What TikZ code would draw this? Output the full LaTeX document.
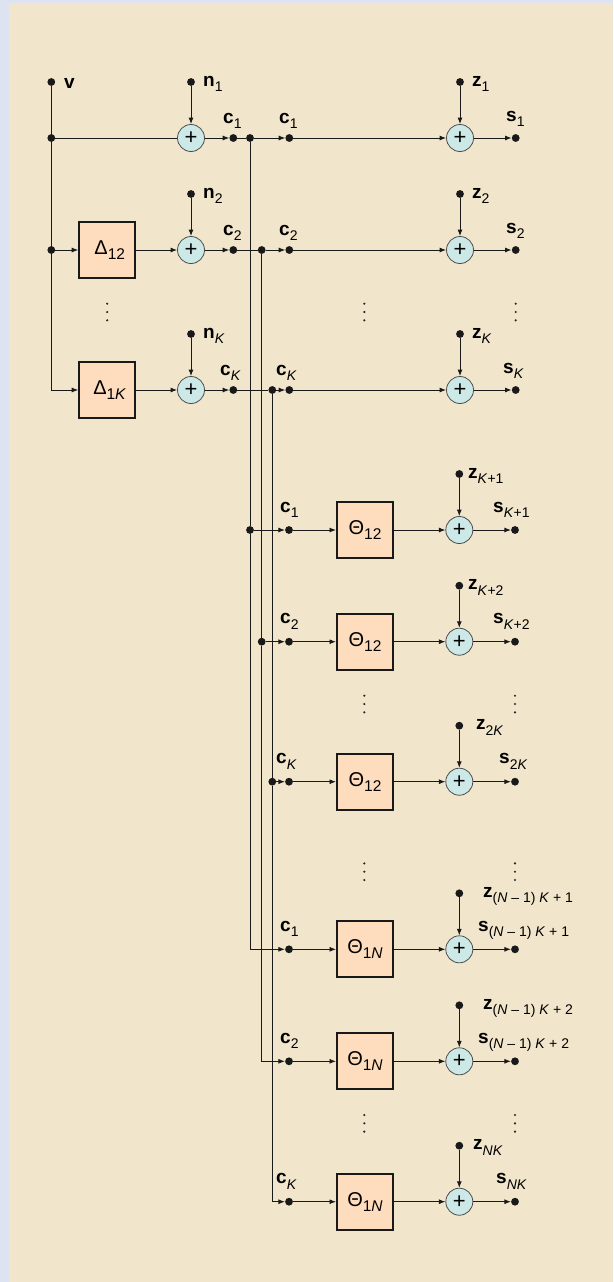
\documentclass[tikz,border=0pt]{standalone}
\usepackage{fontspec}
\setmainfont{Liberation Sans}
\usepackage{xcolor}
\usetikzlibrary{arrows.meta,calc,positioning}
\definecolor{framebg}{RGB}{222,227,241}
\definecolor{panelbg}{RGB}{241,229,203}
\definecolor{blockfill}{RGB}{254,221,190}
\definecolor{sumfill}{RGB}{205,233,231}
\newcommand{\vsub}[2]{\textbf{#1}\raisebox{-5.5pt}{\fontsize{14}{16}\selectfont #2}}
\newcommand{\bsub}[2]{#1\raisebox{-5pt}{\fontsize{15.5}{17}\selectfont #2}}

\begin{document}
\begin{tikzpicture}[x=1pt,y=-1pt,>={Latex[length=6.5pt,width=5pt]},
  wire/.style={line width=0.9pt,draw=black!90},
  sig/.style={wire,->},
  term/.style={circle,fill=black!90,inner sep=0pt,minimum size=7.8pt},
  adder/.style={circle,draw=black!70,line width=0.8pt,fill=sumfill,inner sep=0pt,
                minimum size=27pt,font=\fontsize{22}{22}\selectfont},
  blk/.style={draw=black!90,line width=2pt,fill=blockfill,inner sep=0pt,
              minimum size=56pt,font=\fontsize{20}{22}\selectfont},
  lab/.style={inner sep=0pt,anchor=base west,font=\fontsize{19}{22}\selectfont}]
\useasboundingbox (0,0) rectangle (613,1282);
\fill[framebg] (0,0) rectangle (613,1282);
\fill[panelbg] (9,3) rectangle (613,1282);

% source v and the delays
\node[term] (v) at (51.3,82) {};
\node[lab] at (64,88) {\textbf{v}};
\node[term] (v1) at (51.3,138) {};
\node[term] (v2) at (51.3,250) {};
\coordinate (vK) at (51.3,390);
\node[blk] (d2) at (107.2,250) {\hspace*{5pt}\bsub{Δ}{12}};
\node[blk] (d3) at (107.2,390) {\hspace*{5pt}\bsub{Δ}{1\textit{K}}};
\draw[wire] (v) -- (vK);
\draw[sig] (v1) -- (191,138);
\draw[sig] (v2) -- (d2);
\draw[sig] (vK) -- (d3);

% first K outputs
\foreach \r/\y/\sb/\ca/\cb/\sx in {1/138/1/223/279/506, 2/250/2/223/279/506,
                                   3/390/{\textit{K}}/220/276/503}{
  \node[adder] (a\r) at (191,\y) {+};
  \node[term] (n\r) at (191,\y-56) {};
  \node[lab] at (203,\y-52) {\vsub{n}{\sb}};
  \node[term] (ca\r) at (233.3,\y) {};
  \node[lab] at (\ca,\y-15) {\vsub{c}{\sb}};
  \node[term] (cb\r) at (289.3,\y) {};
  \node[lab] at (\cb,\y-15) {\vsub{c}{\sb}};
  \node[adder] (b\r) at (460,\y) {+};
  \node[term] (z\r) at (460,\y-56) {};
  \node[lab] at (472,\y-52) {\vsub{z}{\sb}};
  \node[term] (s\r) at (515.7,\y) {};
  \node[lab] at (\sx,\y-17) {\vsub{s}{\sb}};
  \draw[sig] (n\r) -- (a\r);
  \draw[sig] (a\r) -- (ca\r);
  \draw[sig] (cb\r) -- (b\r);
  \draw[sig] (z\r) -- (b\r);
  \draw[sig] (b\r) -- (s\r);
}
\draw[sig] (d2) -- (a2);
\draw[sig] (d3) -- (a3);

% taps of c_1 ... c_K
\node[term] (j1) at (250,138) {};
\node[term] (j2) at (261.7,250) {};
\node[term] (j3) at (272.3,390) {};
\foreach \r in {1,2,3}{
  \draw[wire] (ca\r) -- (j\r);
  \draw[sig] (j\r) -- (cb\r);
}

% delayed copies
\foreach \r/\y/\cs/\cx/\th/\zs/\zx/\sx in {
   4/530/1/280/12/{\textit{K}+1}/468/493,
   5/641.7/2/280/12/{\textit{K}+2}/468/493,
   6/781.7/{\textit{K}}/276/12/{2\textit{K}}/476/499,
   7/949.3/1/280/{1\textit{N}}/{(\textit{N} – 1) \textit{K} + 1}/483/478,
   8/1061.3/2/280/{1\textit{N}}/{(\textit{N} – 1) \textit{K} + 2}/483/478,
   9/1201.7/{\textit{K}}/276/{1\textit{N}}/{\textit{NK}}/473/496}{
  \node[term] (q\r) at (289,\y) {};
  \node[lab] at (\cx,\y-18) {\vsub{c}{\cs}};
  \node[blk] (t\r) at (365,\y) {\bsub{Θ}{\th}};
  \node[adder] (e\r) at (459.3,\y) {+};
  \node[term] (zz\r) at (459.3,\y-56) {};
  \node[lab] at (\zx,\y-52) {\vsub{z}{\zs}};
  \node[term] (ss\r) at (515,\y) {};
  \node[lab] at (\sx,\y-18) {\vsub{s}{\zs}};
  \draw[sig] (q\r) -- (t\r);
  \draw[sig] (t\r) -- (e\r);
  \draw[sig] (zz\r) -- (e\r);
  \draw[sig] (e\r) -- (ss\r);
}

% bus lines
\node[term] (p4) at (250,530) {};
\node[term] (p5) at (261.7,641.7) {};
\node[term] (p6) at (272.3,781.7) {};
\draw[wire] (j1) -- (p4);
\draw[wire] (j2) -- (p5);
\draw[wire] (j3) -- (p6);
\draw[sig] (p4) -- (q4);
\draw[sig] (p5) -- (q5);
\draw[sig] (p6) -- (q6);
\draw[sig] (p4) |- (q7);
\draw[sig] (p5) |- (q8);
\draw[sig] (p6) |- (q9);

% vertical ellipses
\foreach \x/\y in {107.2/312, 364.3/312, 515.7/312, 364.3/704, 515/704,
                   364.3/871.7, 515/871.7, 364.3/1123.3, 515/1123.3}
  \foreach \d in {-8.3,0,8.3}
    \fill[black!85] (\x,\y+\d) circle (1.2);
\end{tikzpicture}
\end{document}
